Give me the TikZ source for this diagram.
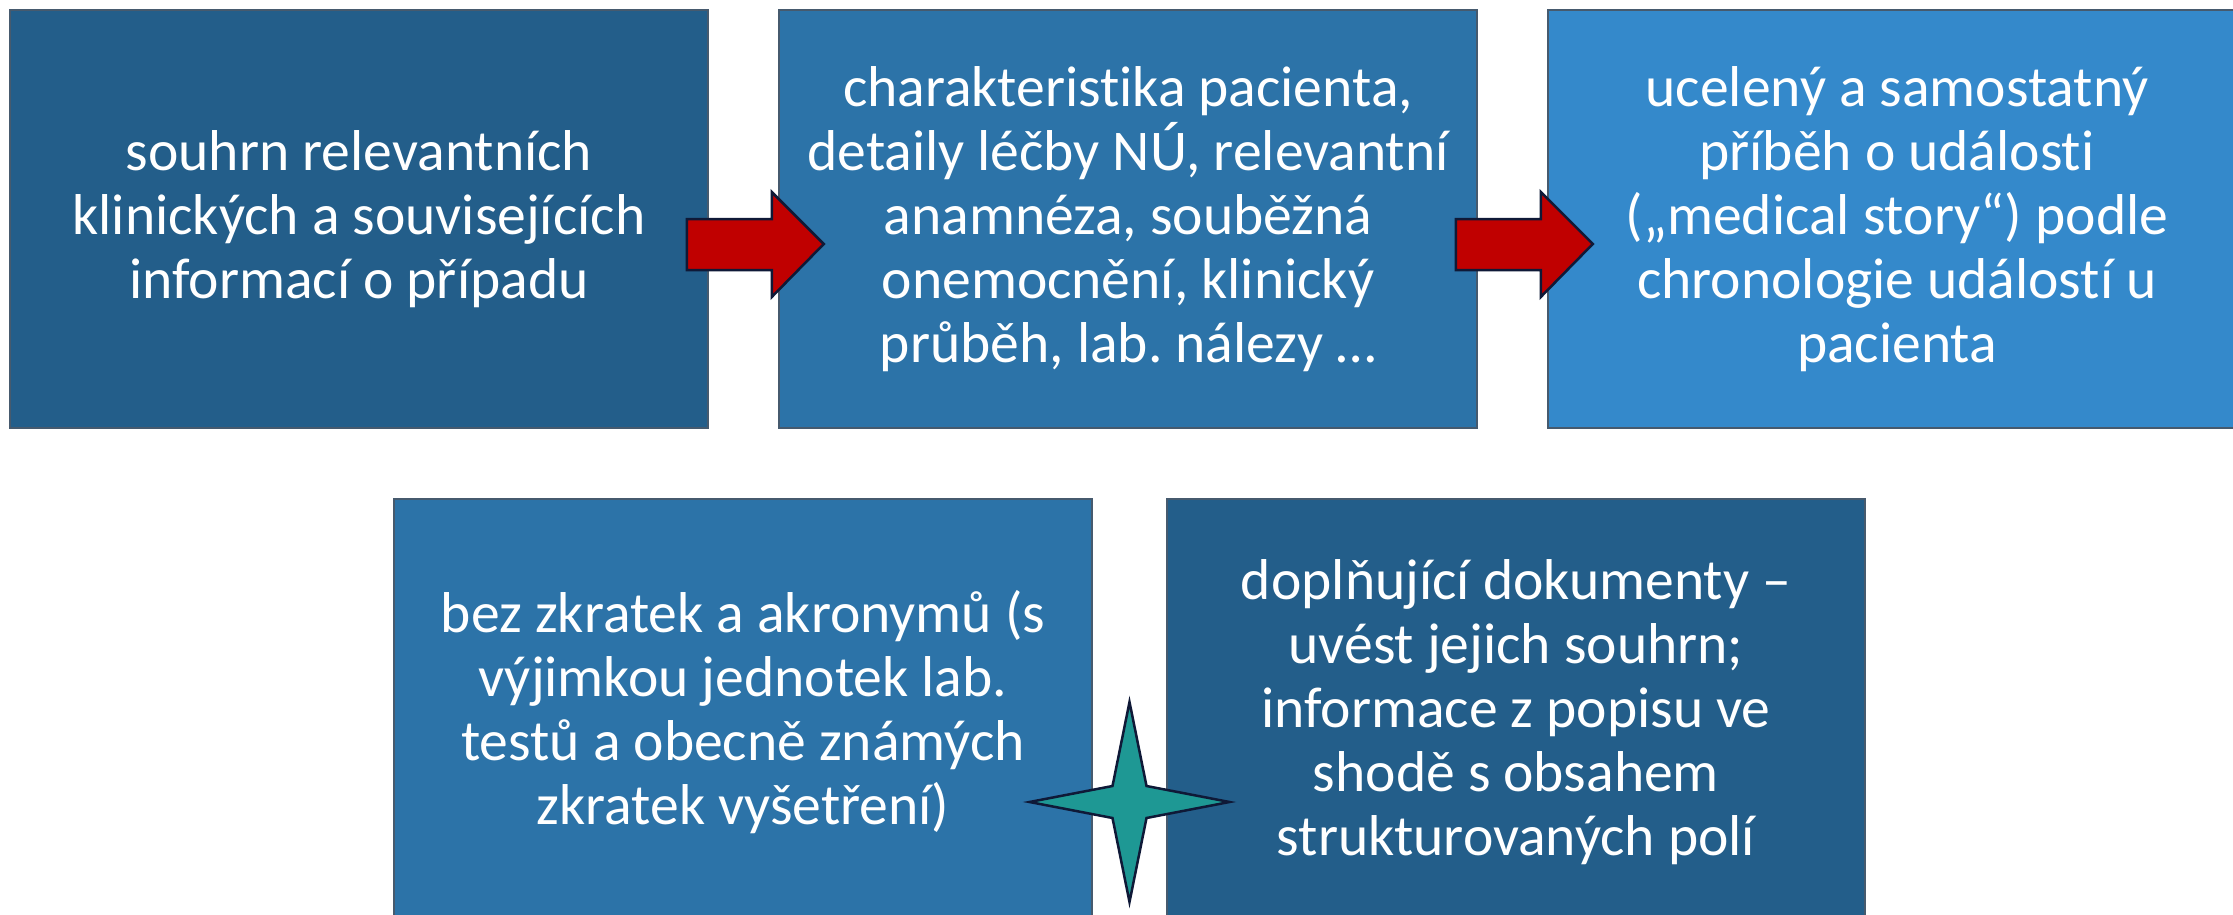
\documentclass[tikz,border=0pt]{standalone}
\usepackage{fontspec}
\setmainfont{Carlito}[Ligatures={NoCommon}]
\usetikzlibrary{calc}
\frenchspacing

\definecolor{boxdark}{RGB}{35,94,138}
\definecolor{boxmid}{RGB}{44,115,168}
\definecolor{boxlight}{RGB}{52,137,203}
\definecolor{arrowred}{RGB}{192,0,0}
\definecolor{startea}{RGB}{30,152,148}
\definecolor{edgenavy}{RGB}{15,25,55}

\tikzset{every picture/.style={line width=0.75pt}}
\tikzset{
  infobox/.style={rectangle, draw={rgb,255:red,70;green,90;blue,110}, line width=1.5,
    minimum width=698, minimum height=418, inner sep=0, text=white, align=center,
    font=\fontsize{57.6}{64}\selectfont},
  redarrow/.style={fill=arrowred, draw=edgenavy, line width=2.5, line join=miter},
  tealstar/.style={fill=startea, draw=edgenavy, line width=2.5, line join=miter}
}

\begin{document}
\begin{tikzpicture}[x=1pt,y=1pt,yscale=-1,xscale=1]
\useasboundingbox (0,0) rectangle (2233,915);
\clip (0,0) rectangle (2233,915);

% Text Node
\draw (359,219) node [infobox, fill=boxdark] (summary) {souhrn relevantních\\klinických a souvisejících\\informací o případu};
% Text Node
\draw (1128,219) node [infobox, fill=boxmid] (details) {charakteristika pacienta,\\detaily léčby NÚ, relevantní\\anamnéza, souběžná\\onemocnění, klinický\\průběh, lab. nálezy …};
% Text Node
\draw (1897,219) node [infobox, fill=boxlight] (story) {ucelený a samostatný\\příběh o události\\(„medical story“) podle\\chronologie událostí u\\pacienta};
% Text Node
\draw (743,712) node [infobox, fill=boxmid, minimum height=426] (abbrev) {bez zkratek a akronymů (s\\výjimkou jednotek lab.\\testů a obecně známých\\zkratek vyšetření)};
% Text Node
\draw (1516,712) node [infobox, fill=boxdark, minimum height=426] (attach) {doplňující dokumenty –\\uvést jejich souhrn;\\informace z popisu ve\\shodě s obsahem\\strukturovaných polí};

%Shape: Right Arrow
\foreach \from in {summary,details}{
  \draw [redarrow] ($(\from.east)+(-22,0)$) -- ($(\from.east)+(63,0)$) -- ($(\from.east)+(63,-27)$)
    -- ($(\from.east)+(115,25)$) -- ($(\from.east)+(63,78)$) -- ($(\from.east)+(63,51)$)
    -- ($(\from.east)+(-22,51)$) -- cycle;
}

%Shape: Star 4
\coordinate (link) at ($(abbrev.east)!0.5!(attach.west)+(0,90)$);
\draw [tealstar] ($(link)+(0,-100)$) -- ($(link)+(17,-16)$) -- ($(link)+(100,0)$) -- ($(link)+(17,16)$)
  -- ($(link)+(0,100)$) -- ($(link)+(-17,16)$) -- ($(link)+(-100,0)$) -- ($(link)+(-17,-16)$) -- cycle;
\end{tikzpicture}
\end{document}
